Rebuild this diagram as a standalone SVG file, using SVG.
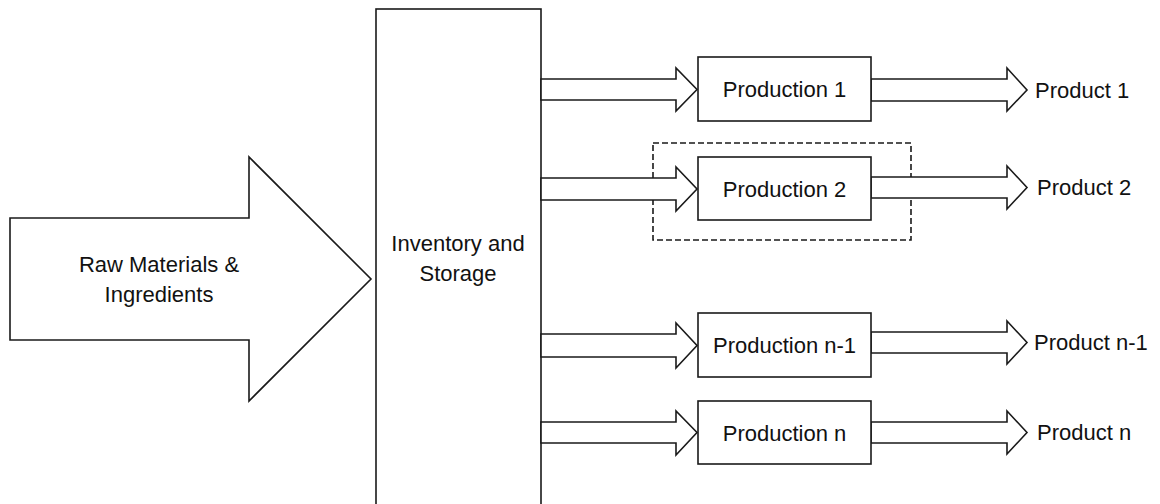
<svg xmlns="http://www.w3.org/2000/svg" width="1160" height="504" viewBox="0 0 1160 504">
<style>
.s{fill:#fff;stroke:#1a1a1a;stroke-width:1.6;stroke-linejoin:miter}
.t{font-family:"Liberation Sans",Arial,sans-serif;font-size:22px;fill:#111}
.m{text-anchor:middle}
.d{fill:none;stroke:#1a1a1a;stroke-width:1.6;stroke-dasharray:6 3}
</style>
<rect width="1160" height="504" fill="#fff"/>
<g id="raw-materials">
<polygon class="s" points="10,218 249,218 249,157 371,279 249,401 249,340 10,340"/>
<text class="t m" x="159" y="272">Raw Materials &amp;</text>
<text class="t m" x="159" y="302">Ingredients</text>
</g>
<g id="inventory">
<rect class="s" x="376" y="9" width="165" height="510"/>
<text class="t m" x="458" y="251">Inventory and</text>
<text class="t m" x="458" y="281">Storage</text>
</g>
<g id="group-box">
<rect class="d" x="653" y="143" width="258" height="97"/>
</g>
<g id="connectors">
<polygon class="s" points="541,79 676,79 676,68 697,89.5 676,111 676,100 541,100"/>
<polygon class="s" points="871,79 1007,79 1007,68 1027,90 1007,111 1007,101 871,101"/>
<polygon class="s" points="541,178 676,178 676,167 697,189 676,211 676,200 541,200"/>
<polygon class="s" points="871,177 1007,177 1007,166 1027,187.5 1007,209 1007,198 871,198"/>
<polygon class="s" points="541,334 676,334 676,323 697,345.5 676,368 676,357 541,357"/>
<polygon class="s" points="871,332 1007,332 1007,321 1027,342.5 1007,364 1007,353 871,353"/>
<polygon class="s" points="541,422 676,422 676,411 697,432.5 676,455 676,443 541,443"/>
<polygon class="s" points="871,422 1007,422 1007,411 1027,432.5 1007,454 1007,443 871,443"/>
</g>
<g id="production-1">
<rect class="s" x="698" y="57" width="173" height="64"/>
<text class="t m" x="784.5" y="97">Production 1</text>
</g>
<g id="production-2">
<rect class="s" x="698" y="157" width="173" height="63"/>
<text class="t m" x="784.5" y="197">Production 2</text>
</g>
<g id="production-n-1">
<rect class="s" x="698" y="313" width="173" height="64"/>
<text class="t m" x="784.5" y="353">Production n-1</text>
</g>
<g id="production-n">
<rect class="s" x="698" y="401" width="173" height="63"/>
<text class="t m" x="784.5" y="440.5">Production n</text>
</g>
<g id="product-1"><text class="t" x="1035" y="98">Product 1</text></g>
<g id="product-2"><text class="t" x="1037" y="195">Product 2</text></g>
<g id="product-n-1"><text class="t" x="1034" y="350">Product n-1</text></g>
<g id="product-n"><text class="t" x="1037" y="440">Product n</text></g>
</svg>
